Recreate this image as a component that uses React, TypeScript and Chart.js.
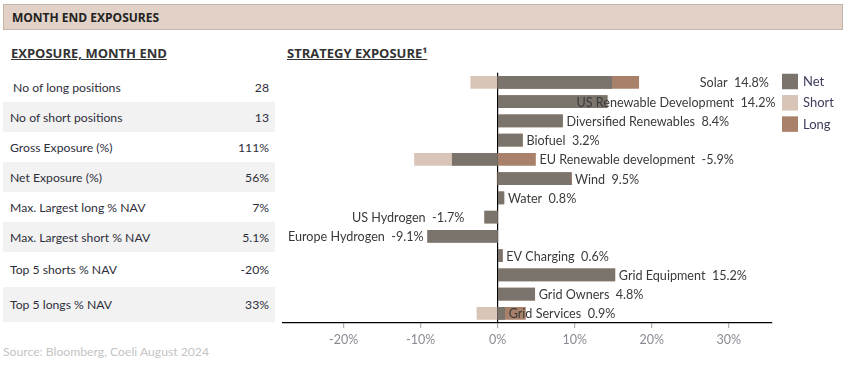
import React, { useEffect, useRef } from "react";
import { Chart, registerables } from "chart.js";

Chart.register(...registerables);

const categories = [
  "Solar",
  "US Renewable Development",
  "Diversified Renewables",
  "Biofuel",
  "EU Renewable development",
  "Wind",
  "Water",
  "US Hydrogen",
  "Europe Hydrogen",
  "EV Charging",
  "Grid Equipment",
  "Grid Owners",
  "Grid Services",
];
const netValues = [14.8, 14.2, 8.4, 3.2, -5.9, 9.5, 0.8, -1.7, -9.1, 0.6, 15.2, 4.8, 0.9];
const shortValues = [-3.5, null, null, null, -10.8, -0.1, null, -1.7, -9.1, null, null, null, -2.7];
const longValues = [18.3, 14.2, 8.4, 3.2, 4.9, 9.6, 0.8, null, null, 0.6, 15.2, 4.8, 3.6];
const labelAnchor = [25.7, 9.7, 8.4, 3.2, 4.9, 9.5, 0.8, -3.8, -9.1, 0.6, 15.2, 4.8, 0.9];
const xTicks = [-20, -10, 0, 10, 20, 30];

const tableRows = [
  [" No of long positions", "28"],
  ["No of short positions", "13"],
  ["Gross Exposure (%)", "111%"],
  ["Net Exposure (%)", "56%"],
  ["Max. Largest long % NAV", "7%"],
  ["Max. Largest short % NAV", "5.1%"],
  ["Top 5 shorts % NAV", "-20%"],
  ["Top 5 longs % NAV", "33%"],
];
const rowHeights = [30, 30, 30, 30, 30, 30, 35, 35];

const NET = "#7a746d";
const SHORT = "#d8c5b7";
const LONG = "#a9816a";
const FONT = "Lato, 'Open Sans', sans-serif";

const labelPlugin = {
  id: "inlineLabels",
  afterDatasetsDraw(chart: any) {
    const { ctx } = chart;
    const xs = chart.scales.x;
    const ys = chart.scales.y;
    ctx.save();
    ctx.font = `12.6px ${FONT}`;
    ctx.fillStyle = "#3a3a3a";
    ctx.textBaseline = "middle";
    categories.forEach((cat, i) => {
      const v = netValues[i];
      const txt = `${cat}  ${v.toFixed(1)}%`;
      const a = labelAnchor[i];
      const x = xs.getPixelForValue(a);
      const y = ys.getPixelForValue(i) + 1;
      if (a >= 0) {
        ctx.textAlign = "left";
        ctx.fillText(txt, x + 4, y);
      } else {
        ctx.textAlign = "right";
        ctx.fillText(txt, x - 4, y);
      }
    });
    ctx.restore();
  },
};

const legendPlugin = {
  id: "sideLegend",
  afterDraw(chart: any) {
    const { ctx, chartArea } = chart;
    const items = chart.data.datasets;
    ctx.save();
    ctx.font = `13px ${FONT}`;
    ctx.textBaseline = "middle";
    ctx.textAlign = "left";
    items.forEach((ds: any, i: number) => {
      const x = chartArea.right + 10;
      const y = chartArea.top + 1 + i * 21.3;
      ctx.fillStyle = ds.backgroundColor;
      ctx.fillRect(x, y, 16, 15.5);
      ctx.fillStyle = "#3d3d5c";
      ctx.fillText(ds.label, x + 21, y + 8);
    });
    ctx.restore();
  },
};

function StrategyChart() {
  const ref = useRef<HTMLCanvasElement | null>(null);
  useEffect(() => {
    if (!ref.current) return;
    const common = { grouped: false, barThickness: 12, borderWidth: 0 };
    const chart = new Chart(ref.current, {
      type: "bar",
      data: {
        labels: categories,
        datasets: [
          { label: "Net", data: netValues, backgroundColor: NET, ...common },
          { label: "Short", data: shortValues as any, backgroundColor: SHORT, ...common },
          { label: "Long", data: longValues as any, backgroundColor: LONG, ...common },
        ],
      },
      options: {
        indexAxis: "y",
        animation: false,
        responsive: false,
        maintainAspectRatio: false,
        layout: { padding: { left: 0, right: 80, top: 12.75, bottom: 0 } },
        plugins: {
          legend: { display: false },
          tooltip: { enabled: false },
        },
        scales: {
          x: {
            min: -28,
            max: 35.6,
            afterFit: (s: any) => {
              s.height = 37;
            },
            afterBuildTicks: (s: any) => {
              s.ticks = xTicks.map((v) => ({ value: v }));
            },
            ticks: {
              padding: 4,
              color: "#8a8a96",
              font: { family: FONT, size: 12.5 },
              callback: (v: any) => `${v}%`,
            },
            grid: {
              color: (c: any) => (c.tick && c.tick.value === 0 ? "#000" : "rgba(0,0,0,0)"),
              lineWidth: 1.2,
              drawTicks: true,
              tickLength: 5,
              tickColor: "#b0b0b0",
            },
            border: { display: true, color: "#000", width: 1.2 },
          },
          y: {
            display: false,
            grid: { display: false },
          },
        },
      },
      plugins: [labelPlugin, legendPlugin],
    });
    return () => chart.destroy();
  }, []);
  return (
    <canvas
      ref={ref}
      width={570}
      height={300}
      style={{ position: "absolute", left: 282, top: 60, width: 570, height: 300 }}
    />
  );
}

export default function App() {
  let top = 72;
  return (
    <div
      style={{
        position: "absolute",
        left: 0,
        top: 0,
        width: 863,
        height: 376,
        background: "#fff",
        fontFamily: FONT,
        overflow: "hidden",
      }}
    >
      <div
        style={{
          position: "absolute",
          left: 3,
          top: 4,
          width: 838,
          height: 24,
          background: "#e1d1c6",
          border: "1px solid #c4b4a9",
          boxSizing: "content-box",
        }}
      >
        <span
          style={{
            position: "absolute",
            left: 8,
            top: 4,
            fontFamily: "'Open Sans', sans-serif",
            fontWeight: 700,
            fontSize: 12,
            color: "#222",
          }}
        >
          MONTH END EXPOSURES
        </span>
      </div>
      <div
        style={{
          position: "absolute",
          left: 11,
          top: 44,
          fontFamily: "'Open Sans', sans-serif",
          fontWeight: 700,
          fontSize: 13,
          color: "#333",
          textDecoration: "underline",
        }}
      >
        EXPOSURE, MONTH END
      </div>
      <div
        style={{
          position: "absolute",
          left: 287,
          top: 44,
          fontFamily: "'Open Sans', sans-serif",
          fontWeight: 700,
          fontSize: 13,
          color: "#333",
          textDecoration: "underline",
        }}
      >
        STRATEGY EXPOSURE¹
      </div>
      {tableRows.map((r, i) => {
        const t = top;
        top += rowHeights[i];
        return (
          <div
            key={i}
            style={{
              position: "absolute",
              left: 3,
              top: t,
              width: 272,
              height: rowHeights[i],
              background: i % 2 === 1 ? "#f2f2f2" : "#fff",
              display: "flex",
              alignItems: "center",
              justifyContent: "space-between",
              fontSize: 12.2,
              color: "#2e2e3a",
              boxSizing: "border-box",
              paddingLeft: 7,
              paddingRight: 6,
              whiteSpace: "pre",
            }}
          >
            <span>{r[0]}</span>
            <span>{r[1]}</span>
          </div>
        );
      })}
      <div
        style={{
          position: "absolute",
          left: 3,
          top: 344,
          fontSize: 12.2,
          color: "#c4c4c4",
        }}
      >
        Source: Bloomberg, Coeli August 2024
      </div>
      <StrategyChart />
    </div>
  );
}
